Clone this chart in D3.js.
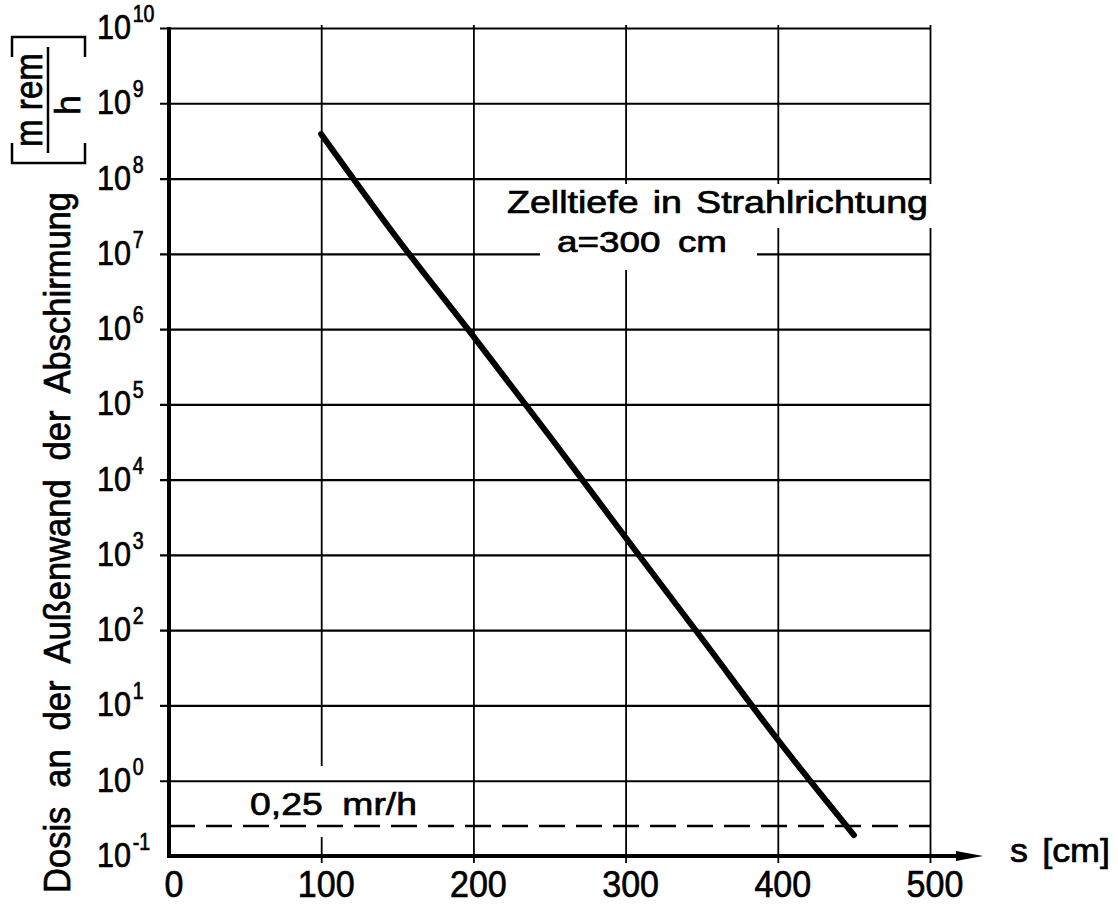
<!DOCTYPE html>
<html>
<head>
<meta charset="utf-8">
<script src="https://cdn.jsdelivr.net/npm/d3@7"></script>
<style>
  html, body { margin: 0; padding: 0; background: #fff; }
  svg { display: block; }
  text { font-family: "Liberation Sans", Arial, sans-serif; fill: #000; stroke: #000; stroke-width: 0.7px; }
</style>
</head>
<body>
<svg id="chart"></svg>
<script>
// wall thickness s [cm] and dose rate [mrem/h]
const wallCm = [100, 150, 200, 250, 300, 350, 400, 450];
const doseRate = [3.9e8, 1.6e7, 8e5, 3.8e4, 1.7e3, 78, 3.5, 0.19];

const xTicks = [0, 100, 200, 300, 400, 500];
const xGrid = [100, 200, 300, 400, 500];
const yExponents = [-1, 0, 1, 2, 3, 4, 5, 6, 7, 8, 9, 10];
const limitDose = 0.25;
const limitLabel = "0,25 mr/h";

const width = 1118;
const height = 905;

const svg = d3.select("#chart").attr("width", width).attr("height", height);

const x = d3.scaleLinear().domain([0, 500]).range([169, 930]);
const y = d3.scaleLog().domain([1e-1, 1e10]).range([856, 28]);

const x0 = x(0), x1 = x(500), yTop = y(1e10), yBot = y(1e-1);

// vertical grid + ticks below the axis
const gx = svg.append("g")
    .attr("transform", `translate(0,${yBot})`)
    .call(d3.axisBottom(x).tickValues(xGrid).tickSize(7).tickFormat(""));
gx.select(".domain").remove();
gx.selectAll(".tick line")
    .attr("y1", yTop - yBot - 3)
    .attr("y2", 7)
    .attr("stroke", "#000")
    .attr("stroke-width", 1.8);

// gap in the 100 line where the limit label sits
svg.append("rect")
    .attr("x", x(100) - 4).attr("width", 8)
    .attr("y", y(limitDose) - 60).attr("height", 71)
    .attr("fill", "#fff");

// horizontal grid
const gy = svg.append("g")
    .attr("transform", `translate(${x0},0)`)
    .call(d3.axisLeft(y).tickValues(yExponents.filter(e => e > -1).map(e => Math.pow(10, e)))
        .tickSize(9).tickFormat(""));
gy.select(".domain").remove();
gy.selectAll(".tick line")
    .attr("x1", -9)
    .attr("x2", x1 - x0)
    .attr("stroke", "#000")
    .attr("stroke-width", 2.2);

// limit line
svg.append("line")
    .attr("x1", x0).attr("x2", x1)
    .attr("y1", y(limitDose)).attr("y2", y(limitDose))
    .attr("stroke", "#000")
    .attr("stroke-width", 2.4)
    .attr("stroke-dasharray", "26 11");

// white boxes behind the note, like the drafted original
svg.append("rect").attr("x", 500).attr("y", 184).attr("width", 433).attr("height", 44).attr("fill", "#fff");
svg.append("rect").attr("x", 540).attr("y", 228).attr("width", 217).attr("height", 42).attr("fill", "#fff");

// axes
svg.append("line")
    .attr("x1", x0).attr("x2", x0).attr("y1", yTop - 1).attr("y2", yBot + 2)
    .attr("stroke", "#000").attr("stroke-width", 4);
svg.append("line")
    .attr("x1", x0 - 2).attr("x2", x1 + 30).attr("y1", yBot).attr("y2", yBot)
    .attr("stroke", "#000").attr("stroke-width", 4);
svg.append("path")
    .attr("d", `M${x1 + 26},${yBot - 5}L${x1 + 53},${yBot}L${x1 + 26},${yBot + 5}Z`)
    .attr("fill", "#000");

// x tick labels
svg.append("g").selectAll("g")
    .data(xTicks)
    .join("g")
    .attr("transform", d => `translate(${x(d) + 5},${yBot + 41}) scale(0.92,1)`)
    .append("text")
    .attr("text-anchor", "middle")
    .attr("font-size", 37)
    .text(d => d);

// y tick labels 10^n
const yl = svg.append("g").selectAll("g")
    .data(yExponents)
    .join("g")
    .attr("transform", e => `translate(97,${y(Math.pow(10, e)) + 11}) scale(0.85,1)`)
    .append("text")
    .attr("font-size", 36);
yl.append("tspan").text("10");
yl.append("tspan")
    .attr("dx", 2)
    .attr("dy", -17)
    .attr("font-size", 23)
    .text(e => e < 0 ? "-" + Math.abs(e) : e);

// axis titles
svg.append("text")
    .attr("transform", "translate(70,893) rotate(-90)")
    .attr("font-size", 37)
    .attr("word-spacing", 10)
    .attr("textLength", 701)
    .attr("lengthAdjust", "spacingAndGlyphs")
    .text("Dosis an der Außenwand der Abschirmung");

svg.append("text")
    .attr("transform", "translate(42,147) rotate(-90)")
    .attr("font-size", 38)
    .attr("textLength", 94)
    .attr("lengthAdjust", "spacingAndGlyphs")
    .text("m rem");
svg.append("line")
    .attr("x1", 48).attr("x2", 48).attr("y1", 153).attr("y2", 47)
    .attr("stroke", "#000").attr("stroke-width", 2.5);
svg.append("text")
    .attr("transform", "translate(80,105) rotate(-90)")
    .attr("text-anchor", "middle")
    .attr("font-size", 35)
    .text("h");
svg.append("path")
    .attr("d", "M12,57V37H85V57M12,143V163H85V143")
    .attr("fill", "none").attr("stroke", "#000").attr("stroke-width", 2.5);

svg.append("text")
    .attr("x", 1010).attr("y", 862)
    .attr("font-size", 34)
    .attr("word-spacing", 4)
    .attr("textLength", 100)
    .attr("lengthAdjust", "spacingAndGlyphs")
    .text("s [cm]");

// notes
svg.append("text")
    .attr("x", 507).attr("y", 213)
    .attr("font-size", 31)
    .attr("word-spacing", 3)
    .attr("textLength", 421)
    .attr("lengthAdjust", "spacingAndGlyphs")
    .text("Zelltiefe in Strahlrichtung");
svg.append("text")
    .attr("x", 557).attr("y", 252)
    .attr("font-size", 30)
    .attr("word-spacing", 6)
    .attr("textLength", 170)
    .attr("lengthAdjust", "spacingAndGlyphs")
    .text("a=300 cm");
svg.append("text")
    .attr("x", 250).attr("y", y(limitDose) - 11)
    .attr("font-size", 32)
    .attr("word-spacing", 8)
    .attr("textLength", 167)
    .attr("lengthAdjust", "spacingAndGlyphs")
    .text(limitLabel);

// dose curve
const pts = wallCm.map((s, i) => ({ s, v: doseRate[i] }));
svg.append("path")
    .datum(pts)
    .attr("d", d3.line().curve(d3.curveMonotoneX).x(d => x(d.s)).y(d => y(d.v)))
    .attr("fill", "none")
    .attr("stroke", "#000")
    .attr("stroke-width", 6)
    .attr("stroke-linecap", "round")
    .attr("stroke-linejoin", "round");
</script>
</body>
</html>
